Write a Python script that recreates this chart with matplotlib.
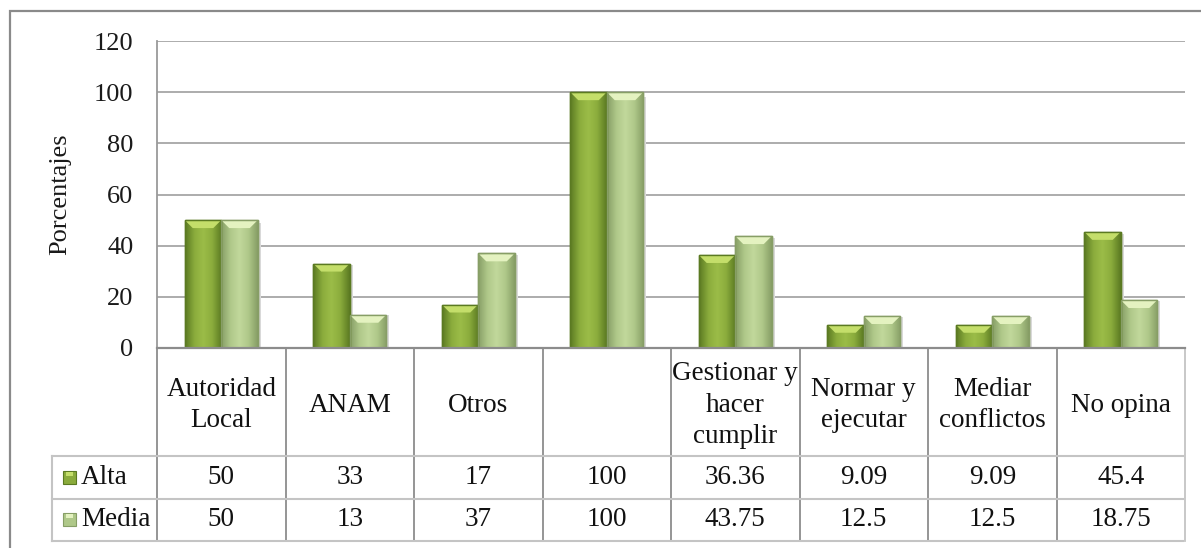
import numpy as np
import matplotlib
matplotlib.use("Agg")
import matplotlib.pyplot as plt
from matplotlib.patches import Rectangle, Polygon
from matplotlib.colors import LinearSegmentedColormap

plt.rcParams['font.family'] = ['Liberation Serif', 'DejaVu Serif']

# -------------------------------
# Data
# -------------------------------
categories = ["Autoridad\nLocal", "ANAM", "Otros", "", "Gestionar y\nhacer\ncumplir",
              "Normar y\nejecutar", "Mediar\nconflictos", "No opina"]
alta = [50, 33, 17, 100, 36.36, 9.09, 9.09, 45.4]
media = [50, 13, 37, 100, 43.75, 12.5, 12.5, 18.75]
series_names = ["Alta", "Media"]
y_ticks = [0, 20, 40, 60, 80, 100, 120]

# colours: (edge, body, highlight, bevel)
alta_colors = ("#5b7a22", "#8aab3c", "#9cbd48", "#c4de6a")
media_colors = ("#879e66", "#afc889", "#c2d89c", "#e4f2c0")

# -------------------------------
# Layout (pixels)
# -------------------------------
W, H = 1201, 548
AX_L, AX_R, AX_T, AX_B = 157, 1185, 41, 348
HEAD_B, ROW1_B, ROW2_B = 456, 499, 541
TABLE_L = 52

fig = plt.figure(figsize=(W / 100, H / 100), dpi=100)
ax = fig.add_axes([AX_L / W, 1 - AX_B / H, (AX_R - AX_L) / W, (AX_B - AX_T) / H])


def yf(py):
    # pixel row -> axes fraction
    return (AX_B - py) / (AX_B - AX_T)


def fx(px):
    return px / W


def fy(py):
    return 1 - py / H


x = np.arange(len(categories))
bw = 0.284

ax.set_xlim(-0.5, len(categories) - 0.5)
ax.set_ylim(0, 120)
ax.set_yticks(y_ticks)
ax.set_xticks([])
ax.tick_params(axis='y', length=0, pad=17, labelsize=19, labelcolor='#1a1a1a')
for s in ['top', 'right', 'bottom']:
    ax.spines[s].set_visible(False)
ax.spines['left'].set_color('#9a9a9a')
ax.spines['left'].set_linewidth(1.3)
ax.yaxis.grid(True, color='#a6a6a6', linewidth=1.3)
ax.set_axisbelow(True)
ax.set_ylabel("Porcentajes", fontsize=19, color='#1a1a1a')
ax.yaxis.set_label_coords((71 - AX_L) / (AX_R - AX_L), 0.5)

# -------------------------------
# Bars with bevel look
# -------------------------------
fig.canvas.draw()


def draw_bars(xpos, vals, cols):
    edge, body, hi, bevel = cols
    cmap = LinearSegmentedColormap.from_list("b", [edge, body, hi, body, edge])
    grad = np.linspace(0, 1, 64).reshape(1, -1)
    bars = ax.bar(xpos, vals, bw, color=body, edgecolor=edge, linewidth=1.0, zorder=3)
    for b in bars:
        x0, w, h = b.get_x(), b.get_width(), b.get_height()
        # soft shadow to the right
        ax.add_patch(Rectangle((x0 + w, 0), 0.025, h * 0.98, color='#d9d9d9', zorder=2, lw=0))
        im = ax.imshow(grad, cmap=cmap, aspect='auto', extent=(x0, x0 + w, 0, h), zorder=3.5,
                       interpolation='bicubic')
        im.set_clip_path(b)
        # bevel on top
        (p0x, p0y) = ax.transData.transform((x0, h))
        (p1x, _) = ax.transData.transform((x0 + w, h))
        d = 8
        ax.add_patch(Polygon([(p0x + 1, p0y - 1), (p1x - 1, p0y - 1), (p1x - d, p0y - d), (p0x + d, p0y - d)],
                             closed=True, transform=None, color=bevel, zorder=4, lw=0))
        ax.add_patch(Rectangle((x0, 0), w, h, fill=False, edgecolor=edge, lw=1.0, zorder=4.5))
    ax.set_xlim(-0.5, len(categories) - 0.5)
    ax.set_ylim(0, 120)


draw_bars(x - bw / 2, alta, alta_colors)
draw_bars(x + bw / 2, media, media_colors)

# x axis line
ax.plot([0, 1], [0, 0], transform=ax.transAxes, color='#8c8c8c', lw=1.6, clip_on=False, zorder=5)

# -------------------------------
# Data table under the chart
# -------------------------------
xt = ax.get_xaxis_transform()
light = '#c4c4c4'
dark = '#8c8c8c'

for k in range(len(categories) + 1):
    col = dark if k < len(categories) else light
    ax.plot([k - 0.5, k - 0.5], [0, yf(ROW2_B)], transform=xt, color=col, lw=1.3, clip_on=False)

for py in [HEAD_B, ROW1_B, ROW2_B]:
    fig.add_artist(plt.Line2D([fx(TABLE_L), fx(AX_R - 2)], [fy(py), fy(py)], color=light, lw=1.5))
fig.add_artist(plt.Line2D([fx(TABLE_L), fx(TABLE_L)], [fy(HEAD_B), fy(ROW2_B)], color=light, lw=1.5))

for i, lab in enumerate(categories):
    ax.text(i, yf((AX_B + HEAD_B) / 2 + 3), lab, transform=xt, ha='center', va='center',
            fontsize=19.5, color='#111111', linespacing=1.33, clip_on=False)

rows = [alta, media]
row_centers = [(HEAD_B + ROW1_B) / 2, (ROW1_B + ROW2_B) / 2]
key_cols = [alta_colors, media_colors]
for vals, cy, name, cols in zip(rows, row_centers, series_names, key_cols):
    for i, v in enumerate(vals):
        ax.text(i, yf(cy), f"{v:g}", transform=xt, ha='center', va='center',
                fontsize=19.5, color='#111111', clip_on=False)
    # legend key
    fig.add_artist(Rectangle((fx(63), fy(cy + 6)), 13 / W, 13 / H, facecolor=cols[1],
                             edgecolor=cols[0], lw=0.8, transform=fig.transFigure))
    fig.add_artist(Rectangle((fx(66), fy(cy - 2)), 7 / W, 4 / H, facecolor=cols[3],
                             lw=0, transform=fig.transFigure))
    fig.text(fx(81), fy(cy), name, ha='left', va='center', fontsize=19.5, color='#111111')

# outer frame
fig.add_artist(Rectangle((fx(10), fy(H + 20)), (W + 20) / W, (H + 9) / H, fill=False,
                         edgecolor='#8a8a8a', lw=1.6, transform=fig.transFigure))

fig.savefig("out.png", dpi=100)
